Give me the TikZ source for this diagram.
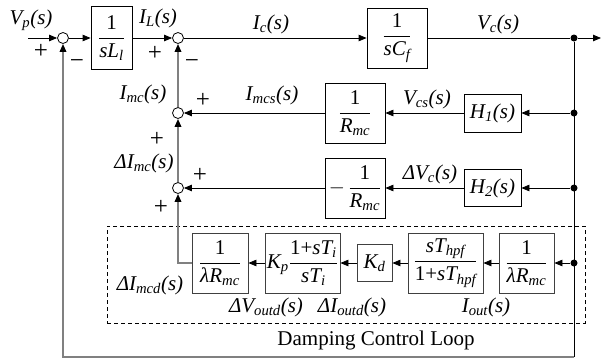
\documentclass[tikz,border=0pt]{standalone}
\usepackage{fontspec}
\setmainfont{Liberation Serif}
\usetikzlibrary{arrows.meta}
\newcommand{\fr}[2]{$\displaystyle\frac{\mbox{#1}}{\mbox{#2}}$}
\newcommand{\sbs}[1]{\textsubscript{#1}}
\begin{document}
\begin{tikzpicture}[x=1pt,y=-1pt,
  font=\fontsize{21}{25}\selectfont,
  blk/.style={draw=black,line width=0.8pt,inner sep=0pt,fill=white},
  dblk/.style={draw=black!75,line width=0.8pt,inner sep=0pt,fill=white},
  sum/.style={circle,draw,line width=0.8pt,minimum size=11pt,inner sep=0pt,fill=white},
  dot/.style={circle,fill=black,minimum size=7pt,inner sep=0pt},
  lab/.style={font=\fontsize{21}{25}\selectfont\itshape,inner sep=0pt},
  sgn/.style={font=\fontsize{25}{30}\selectfont,inner sep=0pt},
  tip/.style={-{Triangle[length=8pt,width=6.5pt,color=black]}},
  sig/.style={draw=black,line width=0.8pt,tip},
  ln/.style={draw=black,line width=0.8pt},
  fb/.style={draw=black!50,line width=1.7pt,tip}]
\useasboundingbox (0,0) rectangle (613,360);

% dashed frame of the damping loop
\node[draw=black,dashed,dash pattern=on 4pt off 3pt,line width=0.8pt,
  minimum width=478pt,minimum height=97pt,inner sep=0pt] (dcl) at (346,274.5) {};
\node[font=\fontsize{21}{25}\selectfont,inner sep=0pt] (dcltxt) at (376,340) {Damping Control Loop};

% summing junctions
\node[sum] (s1) at (63,38) {};
\node[sum] (s2) at (178,38) {};
\node[sum] (s3) at (178,113) {};
\node[sum] (s4) at (178,188) {};

% blocks
\node[blk,minimum width=41pt,minimum height=63pt] (bL) at (111.5,38) {\fr{1}{\itshape sL\sbs{l}}};
\node[blk,minimum width=60pt,minimum height=60pt] (bC) at (397,38) {\fr{1}{\itshape sC\sbs{f}}};
\node[blk,minimum width=60pt,minimum height=60pt] (bR1) at (355,113) {\fr{1}{\itshape R\sbs{mc}}};
\node[blk,minimum width=57pt,minimum height=38pt] (H1) at (492.5,113) {\itshape H\sbs{1}(s)};
\node[blk,minimum width=60pt,minimum height=60pt] (bR2) at (355,188) {$-\,$\fr{1}{\itshape R\sbs{mc}}};
\node[blk,minimum width=57pt,minimum height=37pt] (H2) at (492.5,188) {\itshape H\sbs{2}(s)};

\node[dblk,minimum width=56pt,minimum height=60pt] (D1) at (220,263) {\fr{1}{\itshape λR\sbs{mc}}};
\node[dblk,minimum width=75pt,minimum height=60pt] (Kp) at (302.5,263) {\mbox{\itshape K\sbs{p}}\fr{1+\itshape sT\sbs{i}}{\itshape sT\sbs{i}}};
\node[dblk,minimum width=35pt,minimum height=37pt] (Kd) at (374.5,263) {\itshape K\sbs{d}};
\node[dblk,minimum width=75pt,minimum height=60pt] (HPF) at (445.5,263) {\fr{\itshape sT\sbs{hpf}}{1+\itshape sT\sbs{hpf}}};
\node[dblk,minimum width=55pt,minimum height=60pt] (D5) at (526.5,263) {\fr{1}{\itshape λR\sbs{mc}}};

% branch points and free ends
\node[dot] (d1) at (574,38) {};
\node[dot] (d2) at (574,113) {};
\node[dot] (d3) at (574,188) {};
\node[dot] (d4) at (574,263) {};
\coordinate (in) at (28,38);
\coordinate (out) at (601,38);
\coordinate (br) at (574,357);
\coordinate (bl) at (63,357);
\coordinate (j) at (178,263);

% forward path
\draw[sig] (in) -- (s1);
\draw[sig] (s1) -- (bL);
\draw[sig] (bL) -- (s2);
\draw[sig] (s2) -- (bC);
\draw[ln] (bC) -- (d1);
\draw[sig] (d1) -- (out);
\draw[ln] (d1) -- (br);

% capacitor-current feedback rows
\draw[sig] (d2) -- (H1);
\draw[sig] (H1) -- (bR1);
\draw[sig] (bR1) -- (s3);
\draw[sig] (d3) -- (H2);
\draw[sig] (H2) -- (bR2);
\draw[sig] (bR2) -- (s4);

% damping loop
\draw[sig] (d4) -- (D5);
\draw[sig] (D5) -- (HPF);
\draw[sig] (HPF) -- (Kd);
\draw[sig] (Kd) -- (Kp);
\draw[sig] (Kp) -- (D1);

% grey paths
\draw[fb] (D1.west) -- (j) -- (s4);
\draw[fb] (s4) -- (s3);
\draw[fb] (s3) -- (s2);
\draw[fb] (br) -- (bl) -- (s1);

% signal labels
\node[lab] (lVp) at (31,20) {V\sbs{p}(s)};
\node[lab] (lIL) at (158,18) {I\sbs{L}(s)};
\node[lab] (lIc) at (271,24) {I\sbs{c}(s)};
\node[lab] (lVc) at (498,24) {V\sbs{c}(s)};
\node[lab] (lImc) at (143,94) {I\sbs{mc}(s)};
\node[lab] (lImcs) at (272,95) {I\sbs{mcs}(s)};
\node[lab] (lVcs) at (427,99) {V\sbs{cs}(s)};
\node[lab] (ldImc) at (144,163) {ΔI\sbs{mc}(s)};
\node[lab] (ldVc) at (430,174) {ΔV\sbs{c}(s)};
\node[lab] (ldImcd) at (150,285) {ΔI\sbs{mcd}(s)};
\node[lab] (ldVoutd) at (266,307) {ΔV\sbs{outd}(s)};
\node[lab] (ldIoutd) at (352,307) {ΔI\sbs{outd}(s)};
\node[lab] (lIout) at (486,307) {I\sbs{out}(s)};

% signs
\node[sgn] (p1) at (41,51) {+};
\node[sgn] (m1) at (77,64) {−};
\node[sgn] (p2) at (155,53) {+};
\node[sgn] (m2) at (192,64) {−};
\node[sgn] (p3) at (203,100) {+};
\node[sgn] (p4) at (157,139) {+};
\node[sgn] (p5) at (200,175) {+};
\node[sgn] (p6) at (161,207) {+};
\end{tikzpicture}
\end{document}
